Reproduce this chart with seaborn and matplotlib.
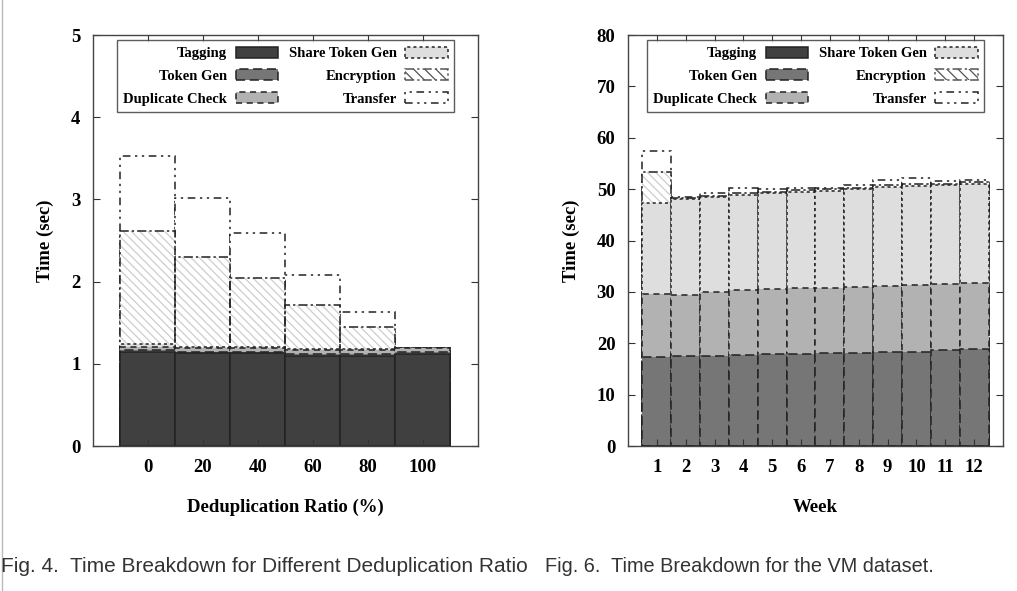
import numpy as np
import pandas as pd
import seaborn as sns
import matplotlib.pyplot as plt
from matplotlib.patches import Patch

# Fig. 4 - time breakdown vs deduplication ratio (sec)
ratios = ['0', '20', '40', '60', '80', '100']
tag4 = [1.15, 1.13, 1.13, 1.10, 1.10, 1.12]
tokgen4 = [0.02, 0.02, 0.02, 0.02, 0.02, 0.02]
dup4 = [0.04, 0.04, 0.04, 0.05, 0.05, 0.05]
share4 = [0.03, 0.02, 0.02, 0.01, 0.01, 0.00]
enc4 = [1.38, 1.09, 0.84, 0.54, 0.27, 0.00]
xfer4 = [0.91, 0.72, 0.54, 0.36, 0.18, 0.00]

# Fig. 6 - time breakdown for the VM dataset (sec)
weeks = ['1', '2', '3', '4', '5', '6', '7', '8', '9', '10', '11', '12']
tag6 = [0.0] * 12
tokgen6 = [17.4, 17.5, 17.6, 17.7, 17.9, 18.0, 18.1, 18.2, 18.3, 18.4, 18.6, 18.8]
dup6 = [12.2, 11.9, 12.4, 12.6, 12.6, 12.7, 12.7, 12.8, 12.9, 13.0, 13.0, 12.9]
share6 = [17.8, 18.6, 18.4, 18.6, 18.7, 18.8, 18.9, 19.0, 19.3, 19.3, 19.2, 19.3]
enc6 = [5.9, 0.3, 0.3, 0.4, 0.3, 0.3, 0.3, 0.3, 0.4, 0.4, 0.3, 0.3]
xfer6 = [4.1, 0.2, 0.5, 1.0, 0.5, 0.4, 0.3, 0.5, 0.8, 1.0, 0.5, 0.4]

names = ['Tagging', 'Token Gen', 'Duplicate Check', 'Share Token Gen', 'Encryption', 'Transfer']
fills = ['#404040', '#767676', '#b2b2b2', '#dedede', 'white', 'white']
styles = ['solid', (0, (6, 3)), (0, (4, 3)), (0, (2, 2)), (0, (6, 2, 1.5, 2)), (0, (5, 3, 1.5, 3, 1.5, 3))]
hatch_col = '#cdcdcd'

serif = 'Liberation Serif'
plt.rcParams['hatch.linewidth'] = 0.9

fig = plt.figure(figsize=(10.17, 5.91), dpi=100)
ax1 = fig.add_axes([0.0914, 0.2453, 0.3786, 0.6954])
ax2 = fig.add_axes([0.6175, 0.2453, 0.3687, 0.6954])


def stacked(ax, cats, layers):
    cum = np.cumsum(np.array(layers), axis=0)
    # draw from the top layer down so each lower segment covers the one above
    for i in range(len(layers) - 1, -1, -1):
        if i == 4:
            sns.barplot(x=cats, y=cum[i], ax=ax, color='white', saturation=1, width=1,
                        edgecolor=hatch_col, linewidth=0, hatch='\\\\\\\\', order=cats)
            sns.barplot(x=cats, y=cum[i], ax=ax, fill=False, saturation=1, width=1,
                        edgecolor='#222222', linewidth=1.1, linestyle=styles[i], order=cats)
        else:
            sns.barplot(x=cats, y=cum[i], ax=ax, color=fills[i], saturation=1, width=1,
                        edgecolor='#222222', linewidth=1.1, linestyle=styles[i], order=cats)


stacked(ax1, ratios, [tag4, tokgen4, dup4, share4, enc4, xfer4])
stacked(ax2, weeks, [tag6, tokgen6, dup6, share6, enc6, xfer6])

handles = []
for i in range(6):
    if i == 4:
        handles.append(Patch(facecolor='white', edgecolor='#555555', hatch='\\\\\\',
                             linestyle=styles[i], linewidth=1.1))
    else:
        handles.append(Patch(facecolor=fills[i], edgecolor='#222222',
                             linestyle=styles[i], linewidth=1.1))

for ax, ymax, ystep, xlab, n in [(ax1, 5, 1, 'Deduplication Ratio (%)', 6),
                                 (ax2, 80, 10, 'Week', 12)]:
    ax.set_xlim(-1, n)
    ax.set_ylim(0, ymax)
    ax.set_yticks(np.arange(0, ymax + ystep / 2, ystep))
    ax.tick_params(direction='in', length=5, width=0.8, top=True, right=True,
                   labelsize=13.5, pad=9, color='#333333')
    for lab in ax.get_xticklabels() + ax.get_yticklabels():
        lab.set_fontfamily(serif)
        lab.set_fontweight('bold')
    for sp in ax.spines.values():
        sp.set_linewidth(1.0)
        sp.set_color('#444444')
    ax.set_xlabel(xlab, fontsize=13.5, fontweight='bold', family=serif, labelpad=17)
    ax.set_ylabel('Time (sec)', fontsize=13.5, fontweight='bold', family=serif, labelpad=12)
    leg = ax.legend(handles, names, ncol=2, markerfirst=False, loc='upper center',
                    bbox_to_anchor=(0.5, 0.995), borderaxespad=0.2, frameon=True,
                    fancybox=False, edgecolor='#333333', handlelength=2.9, handleheight=0.8,
                    handletextpad=0.6, columnspacing=0.7, labelspacing=0.62,
                    borderpad=0.45, prop={'family': serif, 'weight': 'bold', 'size': 10.5})
    leg.get_frame().set_linewidth(1.0)

fig.text(0.001, 0.042, 'Fig. 4.  Time Breakdown for Different Deduplication Ratio',
         fontsize=15, family='Liberation Sans', color='#333333', ha='left', va='center')
fig.text(0.536, 0.042, 'Fig. 6.  Time Breakdown for the VM dataset.',
         fontsize=14.3, family='Liberation Sans', color='#333333', ha='left', va='center')
fig.add_artist(plt.Line2D([0.002, 0.002], [0.0, 1.0], color='#bbbbbb', linewidth=1))

fig.savefig('out.png', dpi=100)
